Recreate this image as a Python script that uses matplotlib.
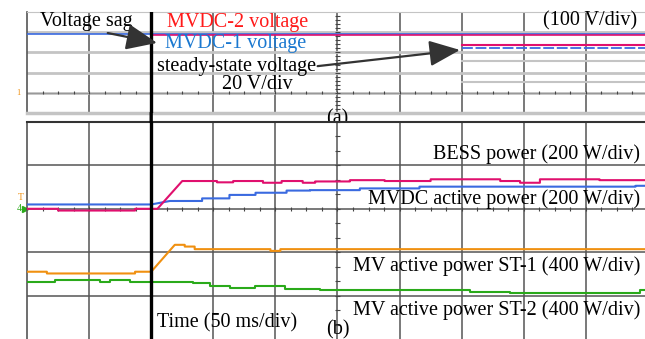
import numpy as np
import matplotlib.pyplot as plt
from matplotlib.patches import ConnectionPatch

plt.rcParams['font.family'] = ['Liberation Serif', 'DejaVu Serif']

# time axis: 50 ms/div, traces in divisions
T_END = 497.6

# (a) MVDC bus voltages, 100 V/div
vdc1_t = [0, T_END]
vdc1_v = [3.93, 3.93]
vdc2_t = [100, T_END]
vdc2_v = [3.88, 3.88]
# steady-state detail, 20 V/div
ss2_t = [350, T_END]
ss2_v = [3.37, 3.37]
ss1_t = [350, T_END]
ss1_v = [3.22, 3.22]

# (b) powers
bess_t = [0, 25, 25, 87, 87, 105, 125, 153, 153, 166, 166, 190, 190, 205, 205, 222,
          222, 232, 232, 260, 260, 288, 288, 325, 325, 381, 381, 397, 397, 413, 413,
          461, 461, T_END]
bess_v = [3.00, 3.00, 2.96, 2.96, 3.00, 3.00, 3.64, 3.64, 3.61, 3.61, 3.64, 3.64,
          3.60, 3.60, 3.64, 3.64, 3.60, 3.60, 3.63, 3.63, 3.66, 3.66, 3.64, 3.64,
          3.68, 3.68, 3.64, 3.64, 3.60, 3.60, 3.68, 3.68, 3.66, 3.66]

pdc_t = [0, 100, 115, 141, 141, 163, 163, 184, 184, 209, 209, 228, 228, 268, 268,
         316, 316, 490, 490, T_END]
pdc_v = [3.10, 3.10, 3.18, 3.18, 3.24, 3.24, 3.32, 3.32, 3.37, 3.37, 3.42, 3.42,
         3.43, 3.43, 3.47, 3.47, 3.51, 3.51, 3.53, 3.53]

st1_t = [0, 16, 16, 87, 87, 100, 119, 127, 127, 135, 135, 196, 196, 204, 204, T_END]
st1_v = [1.55, 1.55, 1.51, 1.51, 1.55, 1.55, 2.17, 2.17, 2.13, 2.13, 2.07, 2.07,
         2.03, 2.03, 2.07, 2.07]

st2_t = [0, 22.5, 22.5, 59, 59, 67, 67, 83, 83, 134, 134, 147, 147, 163.5, 163.5,
         183.5, 183.5, 208, 208, 236, 236, 256, 256, 357, 357, 389, 389, 493.5,
         493.5, T_END]
st2_v = [1.31, 1.31, 1.35, 1.35, 1.32, 1.32, 1.35, 1.35, 1.31, 1.31, 1.28, 1.28,
         1.23, 1.23, 1.18, 1.18, 1.21, 1.21, 1.15, 1.15, 1.13, 1.13, 1.12, 1.12,
         1.09, 1.09, 1.07, 1.07, 1.12, 1.12]

C_MAG = '#e0106e'
C_BLUE = '#3a6ae0'
C_ORANGE = '#f09010'
C_GREEN = '#2aaa1a'
GRID_DARK = '#555555'
GRID_LIGHT = '#c4c4c4'

fig = plt.figure(figsize=(6.45, 3.39), dpi=100)
ax_a = fig.add_axes([27 / 645, 1 - 113 / 339, 618 / 645, 101 / 339])
ax_b = fig.add_axes([27 / 645, 0, 618 / 645, 217 / 339])

for ax in (ax_a, ax_b):
    ax.set_xlim(0, T_END)
    ax.set_ylim(0, 5)
    ax.set_xticks([])
    ax.set_yticks([])
    ax.spines['right'].set_visible(False)
    ax.spines['left'].set_color(GRID_DARK)
    ax.spines['left'].set_linewidth(1.2)
    for t in np.arange(50, 500, 50):
        ax.axvline(t, color=GRID_DARK, lw=1.1, zorder=1)

# panel (a) grid
ax_a.spines['top'].set_color(GRID_LIGHT)
ax_a.spines['top'].set_linewidth(0.8)
ax_a.spines['bottom'].set_color(GRID_LIGHT)
ax_a.spines['bottom'].set_linewidth(2.5)
for d in [1, 2, 3, 4]:
    ax_a.axhline(d, color=GRID_LIGHT, lw=2.0, zorder=1)
for d in [1.53, 2.57]:
    ax_a.plot([350, T_END], [d, d], color=GRID_LIGHT, lw=1.5, zorder=1)
ax_a.axhline(1, color='#999999', lw=0.8, zorder=1)

# panel (b) grid
ax_b.spines['top'].set_color('#333333')
ax_b.spines['top'].set_linewidth(1.5)
ax_b.spines['bottom'].set_visible(False)
for d in [1, 2, 3, 4]:
    ax_b.axhline(d, color=GRID_DARK, lw=1.1, zorder=1)

# centre axes with minor ticks
for ax, yc, step, half in [(ax_a, 1, 0.2, 0.08), (ax_b, 3, 1 / 3, 0.05)]:
    tx = np.arange(12.5, T_END, 12.5)
    ax.vlines(tx, yc - half, yc + half, color='#444444', lw=0.8, zorder=2)
    ty = np.arange(step, 5, step)
    ax.hlines(ty, 250 - 2.2, 250 + 2.2, color='#444444', lw=0.8, zorder=2)

# traces (a)
ax_a.plot(vdc1_t, vdc1_v, color=C_BLUE, lw=1.2, zorder=3)
ax_a.plot(vdc2_t, vdc2_v, color=C_MAG, lw=1.2, zorder=4)
ax_a.plot(ss2_t, ss2_v, color=C_MAG, lw=1.5, zorder=4)
ax_a.plot(ss1_t, ss1_v, color=C_BLUE, lw=1.3, ls=(0, (6, 1.5)), zorder=3)

# traces (b)
ax_b.plot(bess_t, bess_v, color=C_MAG, lw=1.5, zorder=4)
ax_b.plot(pdc_t, pdc_v, color=C_BLUE, lw=1.5, zorder=3)
ax_b.plot(st1_t, st1_v, color=C_ORANGE, lw=1.5, zorder=3)
ax_b.plot(st2_t, st2_v, color=C_GREEN, lw=1.5, zorder=3)

# fault instant marker across both panels
ax_a.axvline(100, color='black', lw=2.4, zorder=5)
ax_b.axvline(100, color='black', lw=2.4, zorder=5)
fig.add_artist(ConnectionPatch(xyA=(100, 0), coordsA=ax_a.transData,
                               xyB=(100, 5), coordsB=ax_b.transData,
                               color='black', lw=2.4))

fs = 14.5
arrow = dict(arrowstyle='-|>,head_length=1.9,head_width=0.8', color='#333333',
             lw=1.6, shrinkA=0, shrinkB=0)

ax_a.text(10.5, 4.53, 'Voltage sag', fontsize=fs, va='center', ha='left', zorder=6)
ax_a.annotate('', xy=(104.7, 3.47), xytext=(65, 3.96), arrowprops=arrow, zorder=6)
ax_a.text(112.7, 4.5, 'MVDC-2 voltage', fontsize=fs, color='#ff1a1a', va='center', zorder=6)
ax_a.text(111, 3.42, 'MVDC-1 voltage', fontsize=fs, color='#1a78d0', va='center', zorder=6)
ax_a.text(104.7, 2.3, 'steady-state voltage', fontsize=fs, va='center', zorder=6)
ax_a.text(157, 1.4, '20 V/div', fontsize=fs, va='center', zorder=6)
ax_a.annotate('', xy=(348.6, 3.12), xytext=(234, 2.32), arrowprops=arrow, zorder=6)
ax_a.text(491, 4.55, '(100 V/div)', fontsize=fs, va='center', ha='right', zorder=6)
ax_a.text(250, -0.3, '(a)', fontsize=fs, va='center', ha='center', clip_on=False, zorder=6)

ax_b.text(493.6, 4.26, 'BESS power (200 W/div)', fontsize=fs, va='center', ha='right', zorder=6)
ax_b.text(493.6, 3.23, 'MVDC active power (200 W/div)', fontsize=fs, va='center', ha='right', zorder=6)
ax_b.text(493.6, 1.68, 'MV active power ST-1 (400 W/div)', fontsize=fs, va='center', ha='right', zorder=6)
ax_b.text(493.6, 0.67, 'MV active power ST-2 (400 W/div)', fontsize=fs, va='center', ha='right', zorder=6)
ax_b.text(104.7, 0.37, 'Time (50 ms/div)', fontsize=fs, va='center', ha='left', zorder=6)
ax_b.text(250, 0.2, '(b)', fontsize=fs, va='center', ha='center', zorder=6)

# channel markers at the left edge
ax_a.text(-5, 1, '1', fontsize=6, color=C_ORANGE, va='center', ha='right', clip_on=False)
ax_b.text(-3, 3.25, 'T', fontsize=7, color=C_ORANGE, va='center', ha='right', clip_on=False)
ax_b.text(-4, 3.0, '4', fontsize=7, color=C_GREEN, va='center', ha='right', clip_on=False)
ax_b.plot([-2], [3.0], marker='>', color=C_GREEN, ms=5, clip_on=False)

fig.savefig('out.png', dpi=100)
